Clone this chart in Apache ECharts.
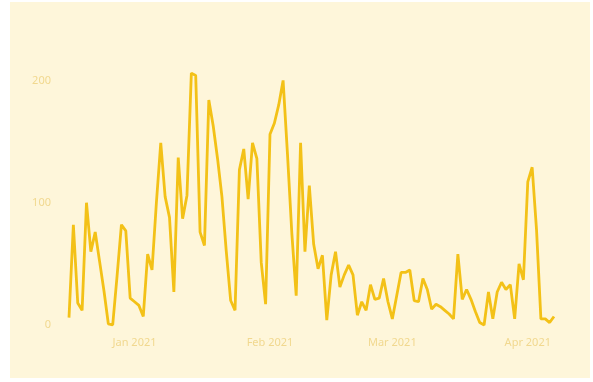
<!DOCTYPE html>
<html>
<head>
<meta charset="utf-8">
<script src="https://cdn.jsdelivr.net/npm/echarts@6/dist/echarts.min.js"></script>
<style>
  html, body { margin: 0; padding: 0; background: #ffffff; }
  #chart { position: absolute; left: 10px; top: 2px; width: 580px; height: 376px; background: #fef6da; }
</style>
</head>
<body>
<div id="chart"></div>
<script>
// daily values, starting 2020-12-17
const START_DATE = '2020-12-17';
const values = [
  6, 82, 18, 12, 100, 60, 76, 52, 28, 1,
  0, 40, 82, 77, 22, 19, 16, 7, 58, 45,
  100, 149, 105, 88, 27, 137, 87, 106, 206, 204,
  76, 65, 184, 163, 136, 105, 60, 20, 12, 127,
  144, 103, 149, 136, 51, 17, 156, 165, 180, 200,
  140, 75, 24, 149, 60, 114, 66, 46, 57, 4,
  41, 60, 31, 41, 49, 41, 8, 19, 12, 33,
  21, 22, 38, 19, 5, 24, 43, 43, 45, 20,
  19, 38, 29, 13, 17, 15, 12, 9, 5, 58,
  21, 29, 21, 11, 2, 0, 27, 5, 27, 35,
  29, 33, 5, 50, 37, 117, 129, 78, 5, 5,
  2, 7
];
const yTicks = [0, 100, 200];
const monthNames = ['Jan','Feb','Mar','Apr','May','Jun','Jul','Aug','Sep','Oct','Nov','Dec'];

// build day categories
var days = [];
var d0 = new Date(START_DATE + 'T00:00:00Z');
for (var i = 0; i < values.length; i++) {
  var d = new Date(d0.getTime() + i * 86400000);
  days.push(d.toISOString().slice(0, 10));
}

var chart = echarts.init(document.getElementById('chart'));
chart.setOption({
  animation: false,
  backgroundColor: 'transparent',
  grid: { left: 59, right: 36, top: 54, bottom: 53 },
  xAxis: {
    type: 'category',
    data: days,
    boundaryGap: false,
    axisLine: { show: false },
    axisTick: { show: false },
    splitLine: { show: false },
    axisLabel: {
      margin: 12,
      color: '#f1d88f',
      fontSize: 11,
      fontFamily: 'Noto Sans',
      interval: (idx, val) => val.slice(8, 10) === '01',
      formatter: (val) => monthNames[parseInt(val.slice(5, 7)) - 1] + ' ' + val.slice(0, 4)
    }
  },
  yAxis: {
    type: 'value',
    min: 0,
    max: 220,
    interval: 100,
    axisLine: { show: false },
    axisTick: { show: false },
    splitLine: { show: false },
    axisLabel: {
      margin: 18,
      color: '#f1d88f',
      fontSize: 11,
      fontFamily: 'Noto Sans',
      showMaxLabel: false,
      formatter: (v) => yTicks.indexOf(v) >= 0 ? String(v) : ''
    }
  },
  series: [{
    type: 'line',
    data: values,
    symbol: 'none',
    lineStyle: { color: '#f3c117', width: 2.8 },
    clip: false
  }]
});
</script>
</body>
</html>
